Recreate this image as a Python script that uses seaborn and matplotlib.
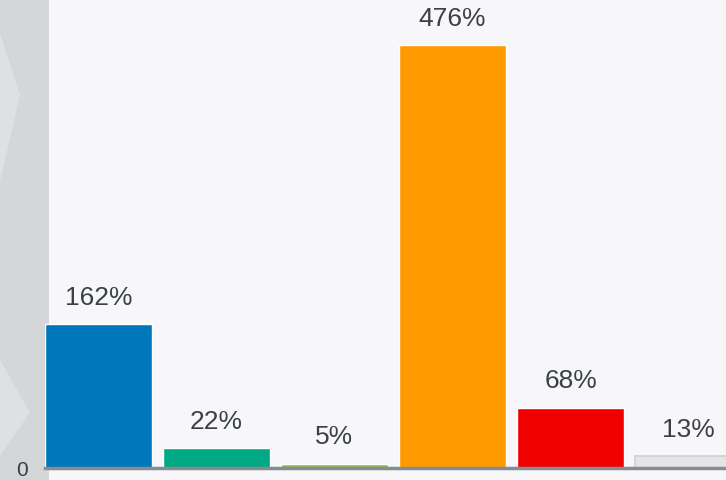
import matplotlib
matplotlib.use("Agg")
import matplotlib.pyplot as plt
import matplotlib.patches as mpatches
import pandas as pd
import seaborn as sns

# Data
categories = ["A", "B", "C", "D", "E", "F"]
values = [162, 22, 5, 476, 68, 13]
labels = ["162%", "22%", "5%", "476%", "68%", "13%"]
colors = ["#0077b8", "#00a883", "#8cc04b", "#ff9a00", "#f00000", "#e4e5e7"]

df = pd.DataFrame({"cat": categories, "val": values})

sns.set_theme(style="white")
plt.rcParams["font.family"] = ["Liberation Sans", "DejaVu Sans"]

W, H = 726, 481
fig = plt.figure(figsize=(W / 100, H / 100), dpi=100)
fig.patch.set_facecolor("#f7f7f9")

# grey strip on the left
fig.patches.append(mpatches.Rectangle((0, 0), 49 / W, 1, transform=fig.transFigure,
                                      facecolor="#d5d6d8", edgecolor="none", zorder=0))
fig.patches.append(mpatches.Polygon([(0, 0.93), (20 / W, 0.80), (0, 0.62)], closed=True,
                                    transform=fig.transFigure, facecolor="#dfe0e2",
                                    edgecolor="none", zorder=0))
fig.patches.append(mpatches.Polygon([(0, 0.25), (30 / W, 0.14), (0, 0.05)], closed=True,
                                    transform=fig.transFigure, facecolor="#dfe0e2",
                                    edgecolor="none", zorder=0))

ax = fig.add_axes([45 / W, 12 / H, (W - 45) / W, 469 / H])
ax.set_facecolor("none")
ax.set_zorder(2)

sns.barplot(data=df, x="cat", y="val", hue="cat", palette=colors, legend=False,
            width=0.907, saturation=1, ax=ax)

# last bar: light bar with a darker top edge
last = ax.patches[-1]
last.set_edgecolor("#cfd0d3")
last.set_linewidth(1.2)

for i, (v, lab) in enumerate(zip(values, labels)):
    ax.annotate(lab, (i, v), xytext=(0, 11), textcoords="offset points",
                ha="center", va="bottom", fontsize=19, color="#3b4046")

ax.set_xlim(-0.4535, -0.4535 + (W - 45) / 118)
ax.set_ylim(0, 528)
ax.set_xticks([])
ax.set_yticks([0])
ax.set_yticklabels(["0"], fontsize=15, color="#3b4046")
ax.tick_params(axis="y", length=0, pad=12)
ax.set_xlabel("")
ax.set_ylabel("")
for s in ["top", "right", "left"]:
    ax.spines[s].set_visible(False)
ax.spines["bottom"].set_color("#878c93")
ax.spines["bottom"].set_linewidth(2.5)

fig.savefig("out.png", dpi=100, facecolor=fig.get_facecolor())
